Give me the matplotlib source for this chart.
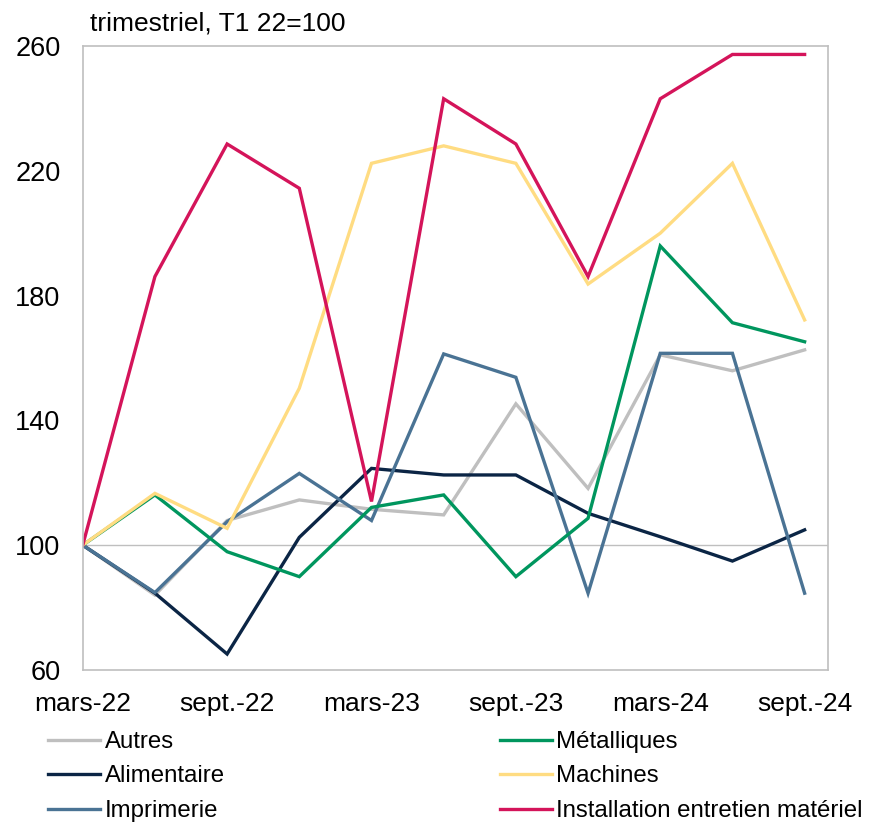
import matplotlib
matplotlib.use("Agg")
import matplotlib.pyplot as plt
import numpy as np

plt.rcParams['font.family'] = ['Liberation Sans', 'DejaVu Sans']

# trimestres, T1 22 = 100
trimestres = ['mars-22', 'juin-22', 'sept.-22', 'déc.-22', 'mars-23', 'juin-23',
              'sept.-23', 'déc.-23', 'mars-24', 'juin-24', 'sept.-24']

autres = [100, 84.0, 107.9, 114.5, 111.5, 109.7, 145.3, 118.2, 161.0, 155.9, 162.6]
alimentaire = [100, 84.6, 65.1, 102.5, 124.6, 122.5, 122.5, 110.2, 102.7, 94.9, 104.9]
imprimerie = [100, 84.8, 107.5, 123.0, 107.9, 161.3, 153.8, 84.6, 161.5, 161.5, 84.6]
metalliques = [100, 116.1, 97.9, 89.9, 112.1, 116.1, 89.9, 108.6, 195.9, 171.3, 165.2]
machines = [100, 116.6, 105.4, 150.3, 222.4, 228.0, 222.4, 183.7, 200.0, 222.4, 172.2]
installation = [100, 186.1, 228.6, 214.4, 114.0, 243.1, 228.6, 186.1, 243.1, 257.3, 257.3]

series = [
    ('Autres', autres, '#BFBFBF'),
    ('Alimentaire', alimentaire, '#0B2545'),
    ('Imprimerie', imprimerie, '#4A7394'),
    ('Métalliques', metalliques, '#00965E'),
    ('Machines', machines, '#FFDC82'),
    ('Installation entretien matériel', installation, '#D4145A'),
]

fig = plt.figure(figsize=(8.83, 8.22), dpi=100)
ax = fig.add_axes([0.0937, 0.185, 0.8437, 0.759])

x = np.arange(len(trimestres))
ax.axhline(100, color='#BFBFBF', lw=1, zorder=1)

lignes = {}
for nom, vals, coul in series:
    (l,) = ax.plot(x, vals, color=coul, lw=2.4, label=nom, zorder=2,
                   solid_joinstyle='miter')
    lignes[nom] = l

ax.set_xlim(0, 10.32)
ax.set_ylim(60, 260)
ax.set_yticks([60, 100, 140, 180, 220, 260])
ax.set_xticks(x[::2])
ax.set_xticklabels(trimestres[::2])
ax.tick_params(axis='y', length=0, pad=16, labelsize=19.5)
ax.tick_params(axis='x', length=0, pad=16, labelsize=19)
for s in ax.spines.values():
    s.set_color('#BFBFBF')
    s.set_linewidth(1.2)

fig.text(90 / 883, 1 - 31 / 822, 'trimestriel, T1 22=100', fontsize=19,
         va='baseline', ha='left')

# légende en deux colonnes
gauche = [lignes[n] for n in ('Autres', 'Alimentaire', 'Imprimerie')]
droite = [lignes[n] for n in ('Métalliques', 'Machines', 'Installation entretien matériel')]
for hs, x0 in ((gauche, 48 / 883), (droite, 500 / 883)):
    fig.legend(handles=hs, loc='upper left', bbox_to_anchor=(x0, 1 - 731 / 822),
               frameon=False, fontsize=17.3, handlelength=2.15, handletextpad=0.2,
               labelspacing=0.52, borderaxespad=0, borderpad=0)

fig.savefig('out.png', dpi=100)
